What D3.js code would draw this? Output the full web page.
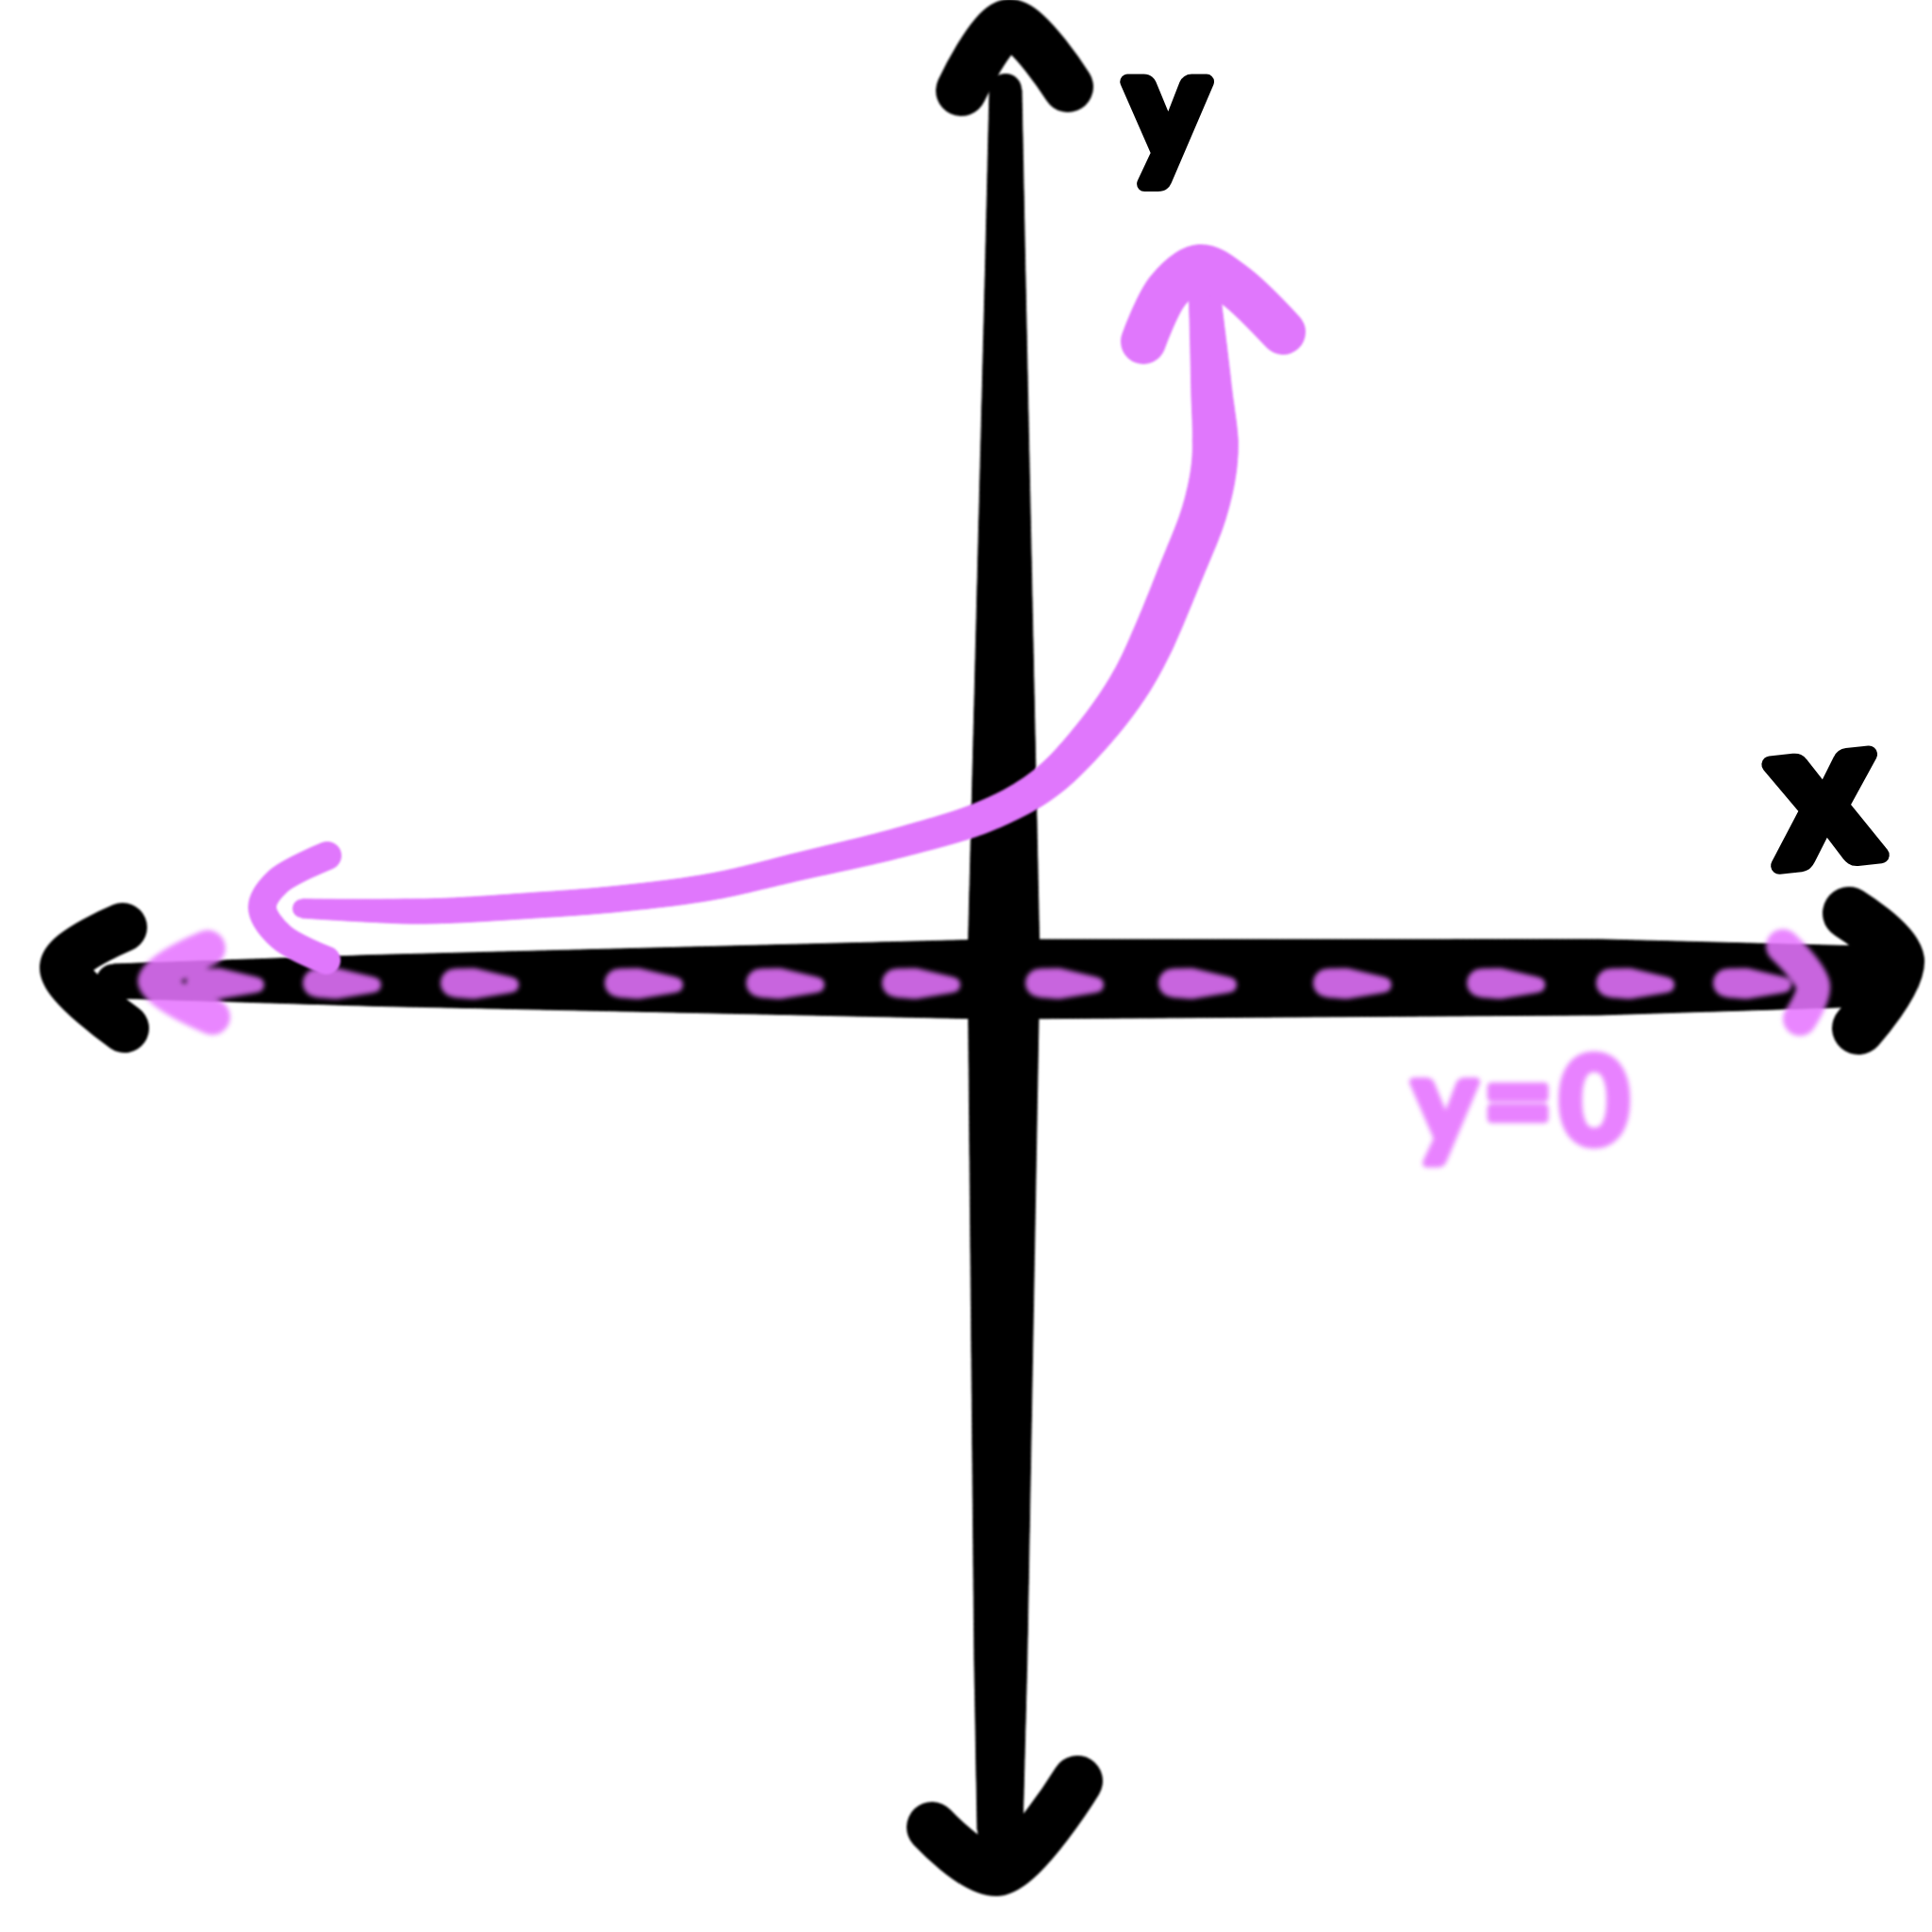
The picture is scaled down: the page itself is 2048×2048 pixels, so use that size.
<!DOCTYPE html>
<html><head><meta charset="utf-8">
<script src="https://cdn.jsdelivr.net/npm/d3@7"></script>
<style>html,body{margin:0;padding:0;background:#fff}</style>
</head><body><svg id="c" width="2048" height="2048"></svg>
<script>
// ---- data (hand-drawn sketch of y = b^x with asymptote y = 0), units: 1 = 100px ----
const curveX = [-7.44, -6.14, -5.02, -4.11, -3.10, -2.15, -1.10, -0.19, 0.40, 0.85, 1.38, 1.90, 2.14, 2.24, 2.20, 2.12];
const curveY = [0.75, 0.72, 0.78, 0.85, 0.98, 1.20, 1.45, 1.73, 2.05, 2.48, 3.20, 4.37, 5.00, 5.55, 6.28, 7.38];
const curveLeftArrowX = [-7.17, -7.70, -7.86, -7.66, -7.18];
const curveLeftArrowY = [1.31, 1.03, 0.76, 0.45, 0.20];
const curveTopArrowX = [1.48, 1.74, 2.08, 2.44, 2.96];
const curveTopArrowY = [6.76, 7.30, 7.55, 7.36, 6.86];
const asymptoteY = -0.04;
const dashCenters = [-8.22, -6.98, -5.52, -3.78, -2.28, -0.84, 0.68, 2.09, 3.73, 5.36, 6.73, 7.97];
const asymLeftArrowX = [-8.44, -8.99, -8.39];
const asymLeftArrowY = [0.33, -0.02, -0.40];
const asymRightArrowX = [8.26, 8.58, 8.44];
const asymRightArrowY = [0.35, -0.07, -0.42];
const xAxisShaftX = [-9.44, 0, 9.11];
const xAxisShaftY = [-0.02, 0.0, 0.03];
const yAxisShaftX = [0.02, 0.0, -0.04];
const yAxisShaftY = [9.43, 0.0, -9.02];
const xAxisLeftHeadX = [-9.34, -9.96, -9.32];
const xAxisLeftHeadY = [0.55, 0.13, -0.52];
const xAxisRightHeadX = [8.96, 9.48, 9.06];
const xAxisRightHeadY = [0.70, 0.20, -0.52];
const yAxisTopHeadX = [-0.45, 0.06, 0.68];
const yAxisTopHeadY = [9.42, 10.12, 9.46];
const yAxisBottomHeadX = [-0.76, -0.07, 0.78];
const yAxisBottomHeadY = [-8.99, -9.45, -8.50];
const labels = ["x", "y", "y=0"];
const labelX = [8.76, 1.73, 4.34];
const labelY = [1.26, 8.70, -1.74];

// ---- scales ----
const X = d3.scaleLinear().domain([-10, 10]).range([64, 2064]);
const Y = d3.scaleLinear().domain([-10, 10]).range([2038, 38]);
const svg = d3.select('#c');
const defs = svg.append('defs');
defs.append('filter').attr('id','blur').attr('x','-20%').attr('y','-50%').attr('width','140%').attr('height','200%')
  .append('feGaussianBlur').attr('stdDeviation', 2.6);
defs.append('filter').attr('id','soft').attr('x','-5%').attr('y','-5%').attr('width','110%').attr('height','110%')
  .append('feGaussianBlur').attr('stdDeviation', 0.8);

const BLACK = '#000', PURPLE = '#e077fc', ASYM = '#e675ff';
const pts = (xs, ys) => xs.map((x, i) => [X(x), Y(ys[i])]);

function tapered(g, p, widthAt, color, curve) {
  const line = d3.line().curve(curve || d3.curveCatmullRom.alpha(0.5));
  const tmp = g.append('path').attr('d', line(p)).attr('fill', 'none');
  const node = tmp.node(), L = node.getTotalLength(), N = 300;
  const left = [], right = [];
  for (let i = 0; i <= N; i++) {
    const s = L * i / N, q = node.getPointAtLength(s);
    const a = node.getPointAtLength(Math.max(0, s - 1)), b = node.getPointAtLength(Math.min(L, s + 1));
    let dx = b.x - a.x, dy = b.y - a.y; const len = Math.hypot(dx, dy) || 1; dx /= len; dy /= len;
    const w = widthAt(i / N) / 2;
    left.push([q.x - dy * w, q.y + dx * w]); right.push([q.x + dy * w, q.y - dx * w]);
  }
  const p0 = node.getPointAtLength(0), p1 = node.getPointAtLength(L);
  tmp.remove();
  const poly = left.concat(right.reverse());
  g.append('path').attr('d', 'M' + poly.map(d => d[0].toFixed(1) + ',' + d[1].toFixed(1)).join('L') + 'Z')
    .attr('fill', color).attr('stroke', color).attr('stroke-width', 1).attr('stroke-linejoin', 'round');
  g.append('circle').attr('cx', p0.x).attr('cy', p0.y).attr('r', widthAt(0) / 2).attr('fill', color);
  g.append('circle').attr('cx', p1.x).attr('cy', p1.y).attr('r', widthAt(1) / 2).attr('fill', color);
}
function stroke(g, p, w, color, curve) {
  g.append('path').attr('d', d3.line().curve(curve || d3.curveLinear)(p))
    .attr('fill', 'none').attr('stroke', color).attr('stroke-width', w)
    .attr('stroke-linecap', 'round').attr('stroke-linejoin', 'round');
}

// ---- black axes ----
const axes = svg.append('g').attr('filter', 'url(#soft)');
tapered(axes, pts(xAxisShaftX, xAxisShaftY), d3.scaleLinear().domain([0, 0.15, 0.5, 0.85, 1]).range([36, 54, 84, 80, 64]), BLACK, d3.curveLinear);
tapered(axes, pts(yAxisShaftX, yAxisShaftY), d3.scaleLinear().domain([0, 0.1, 0.5, 0.9, 1]).range([34, 42, 76, 56, 48]), BLACK, d3.curveLinear);
stroke(axes, pts(xAxisLeftHeadX, xAxisLeftHeadY), 52, BLACK, d3.curveCatmullRom.alpha(0.5));
stroke(axes, pts(xAxisRightHeadX, xAxisRightHeadY), 56, BLACK, d3.curveCatmullRom.alpha(0.5));
stroke(axes, pts(yAxisTopHeadX, yAxisTopHeadY), 54, BLACK, d3.curveCatmullRom.alpha(0.5));
stroke(axes, pts(yAxisBottomHeadX, yAxisBottomHeadY), 54, BLACK, d3.curveCatmullRom.alpha(0.5));

// ---- asymptote y = 0 (dashed, blurred) ----
const asym = svg.append('g').attr('filter', 'url(#blur)').attr('opacity', 0.87);
dashCenters.forEach(c => {
  tapered(asym, [[X(c - 0.30), Y(asymptoteY)], [X(c + 0.30), Y(asymptoteY - 0.02)]],
    d3.scaleLinear().domain([0, 0.35, 1]).range([30, 32, 16]), ASYM, d3.curveLinear);
});
stroke(asym, pts(asymLeftArrowX, asymLeftArrowY), 38, ASYM, d3.curveCatmullRom.alpha(0.5));
stroke(asym, pts(asymRightArrowX, asymRightArrowY), 36, ASYM, d3.curveCatmullRom.alpha(0.5));

// ---- exponential curve ----
const cg = svg.append('g').attr('filter', 'url(#soft)');
tapered(cg, pts(curveX, curveY), d3.scaleLinear().domain([0, 0.08, 0.35, 0.55, 0.72, 0.88, 1]).range([20, 26, 28, 34, 46, 48, 32]), PURPLE);
stroke(cg, pts(curveLeftArrowX, curveLeftArrowY), 30, PURPLE, d3.curveCatmullRom.alpha(0.5));
stroke(cg, pts(curveTopArrowX, curveTopArrowY), 48, PURPLE, d3.curveCatmullRom.alpha(0.5));

// ---- labels ----
const lab = svg.append('g').style('font-family', 'Lato, "DejaVu Sans", sans-serif').style('font-weight', 700);
lab.append('text').text(labels[0]).attr('x', X(labelX[0])).attr('y', Y(labelY[0]))
  .attr('transform', `rotate(-6 ${X(labelX[0])} ${Y(labelY[0])})`)
  .attr('text-anchor', 'middle').attr('font-size', 210).attr('fill', BLACK)
  .attr('stroke', BLACK).attr('stroke-width', 18).attr('stroke-linejoin', 'round').attr('paint-order', 'stroke');
lab.append('text').text(labels[1]).attr('x', X(labelX[1])).attr('y', Y(labelY[1]))
  .attr('text-anchor', 'middle').attr('font-size', 160).attr('fill', BLACK)
  .attr('stroke', BLACK).attr('stroke-width', 16).attr('stroke-linejoin', 'round').attr('paint-order', 'stroke');
lab.append('text').text(labels[2]).attr('x', X(labelX[2])).attr('y', Y(labelY[2]))
  .attr('font-size', 126).attr('letter-spacing', 8).attr('fill', ASYM).attr('opacity', 0.9)
  .attr('stroke', ASYM).attr('stroke-width', 9).attr('stroke-linejoin', 'round').attr('paint-order', 'stroke')
  .attr('filter', 'url(#blur)');
</script></body></html>
